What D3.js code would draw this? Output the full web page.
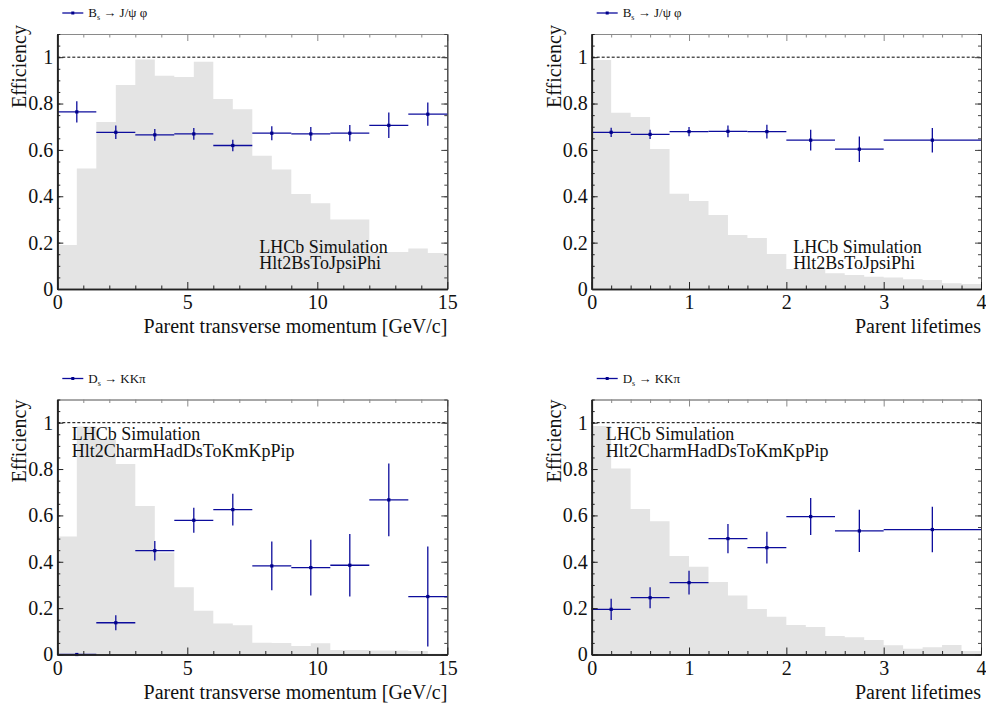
<!DOCTYPE html>
<html lang="en">
<head>
<meta charset="utf-8">
<title>Hlt2 efficiencies</title>
<script src="https://d3js.org/d3.v7.min.js"></script>
<style>
body { margin: 0; background: #fff; }
svg text { font-family: "Liberation Serif", "Times New Roman", Times, "DejaVu Serif", serif; fill: #111; }
</style>
</head>
<body>
<script>
// ---- data ----
// grey background distributions (arbitrary units, 20 bins)
var ptHistEdges  = [0, 0.75, 1.5, 2.25, 3, 3.75, 4.5, 5.25, 6, 6.75, 7.5, 8.25, 9, 9.75, 10.5, 11.25, 12, 12.75, 13.5, 14.25, 15];
var tauHistEdges = [0, 0.2, 0.4, 0.6, 0.8, 1, 1.2, 1.4, 1.6, 1.8, 2, 2.2, 2.4, 2.6, 2.8, 3, 3.2, 3.4, 3.6, 3.8, 4];

var bsPtHist  = [0.19, 0.52, 0.72, 0.88, 0.99, 0.92, 0.915, 0.98, 0.82, 0.775, 0.575, 0.515, 0.41, 0.37, 0.30, 0.30, 0.16, 0.16, 0.175, 0.155];
var bsTauHist = [0.988, 0.76, 0.742, 0.604, 0.411, 0.38, 0.319, 0.233, 0.22, 0.151, 0.086, 0.085, 0.068, 0.06, 0.053, 0.05, 0.042, 0.039, 0.025, 0.022];
var dsPtHist  = [0.509, 0.983, 0.93, 0.822, 0.641, 0.44, 0.29, 0.189, 0.134, 0.126, 0.051, 0.05, 0.037, 0.048, 0.019, 0.019, 0.017, 0.017, 0.015, 0.003];
var dsTauHist = [0.986, 0.802, 0.628, 0.575, 0.425, 0.378, 0.313, 0.254, 0.196, 0.163, 0.127, 0.119, 0.08, 0.074, 0.063, 0.04, 0.025, 0.031, 0.041, 0.015];

// efficiency points
var ptEffEdges  = [0, 1.5, 3, 4.5, 6, 7.5, 9, 10.5, 12, 13.5, 15];
var tauEffEdges = [0, 0.4, 0.8, 1.2, 1.6, 2, 2.5, 3, 4];

var bsPtEff  = [0.764, 0.676, 0.665, 0.669, 0.619, 0.672, 0.669, 0.672, 0.706, 0.754];
var bsPtErr  = [0.046, 0.029, 0.025, 0.025, 0.025, 0.03, 0.03, 0.035, 0.055, 0.05];
var bsTauEff = [0.676, 0.667, 0.679, 0.68, 0.679, 0.642, 0.603, 0.642];
var bsTauErr = [0.02, 0.02, 0.02, 0.025, 0.03, 0.045, 0.055, 0.053];

var dsPtEff  = [0.0, 0.137, 0.448, 0.579, 0.625, 0.382, 0.375, 0.385, 0.667, 0.25];
var dsPtErr  = [0, 0.032, 0.042, 0.054, 0.068, 0.105, 0.12, 0.135, 0.157, 0.216];
var dsTauEff = [0.195, 0.245, 0.31, 0.5, 0.461, 0.595, 0.533, 0.539];
var dsTauErr = [0.046, 0.045, 0.051, 0.063, 0.068, 0.08, 0.091, 0.098];

var yTicks = [0, 0.2, 0.4, 0.6, 0.8, 1];
var ptTicks = [0, 5, 10, 15];
var tauTicks = [0, 1, 2, 3, 4];

// ---- layout ----
var W = 986, H = 707;
var pointColor = "#0c0c9c";
var serif = "'Liberation Serif', 'Times New Roman', Times, 'DejaVu Serif', serif";

var svg = d3.select("body").append("svg")
    .attr("width", W)
    .attr("height", H)
    .attr("font-family", serif);

function drawPanel(p) {
    var g = svg.append("g")
        .attr("transform", "translate(" + p.left + "," + p.top + ")");

    var x = d3.scaleLinear().domain(p.xDomain).range([0, p.width]);
    var y = d3.scaleLinear().domain([0, 1.1]).range([p.height, 0]);

    // grey histogram
    var histData = p.histEdges.map(function (e, i) {
        return { x: e, v: p.hist[Math.min(i, p.hist.length - 1)] };
    });
    var area = d3.area()
        .curve(d3.curveStepAfter)
        .x(function (d) { return x(d.x); })
        .y0(y(0))
        .y1(function (d) { return y(d.v); });
    g.append("path").datum(histData)
        .attr("d", area)
        .attr("fill", "#e4e4e4");

    // reference line at 1
    g.append("line")
        .attr("x1", 0).attr("x2", p.width)
        .attr("y1", y(1)).attr("y2", y(1))
        .attr("stroke", "#000")
        .attr("stroke-width", 1)
        .attr("stroke-dasharray", "3,2");

    // frame: top and right (no labels)
    var topAxis = g.append("g").call(
        d3.axisTop(x).tickValues(p.xMinor).tickSizeInner(-3.5).tickSizeOuter(0).tickFormat(""));
    var topMajor = g.append("g").call(
        d3.axisTop(x).tickValues(p.xTicks).tickSizeInner(-7).tickSizeOuter(0).tickFormat(""));
    var rightAxis = g.append("g").attr("transform", "translate(" + p.width + ",0)").call(
        d3.axisRight(y).tickValues(d3.range(0, 1.101, 0.05)).tickSizeInner(-3).tickSizeOuter(0).tickFormat(""));
    var rightMajor = g.append("g").attr("transform", "translate(" + p.width + ",0)").call(
        d3.axisRight(y).tickValues(yTicks).tickSizeInner(-6).tickSizeOuter(0).tickFormat(""));
    [topAxis, topMajor].forEach(function (a) {
        a.selectAll("path, line").attr("stroke", "#8a8a8a");
    });
    [rightAxis, rightMajor].forEach(function (a) {
        a.selectAll("path, line").attr("stroke", "#444");
    });

    // efficiency points
    var pts = p.eff.map(function (v, i) {
        return { lo: p.effEdges[i], hi: p.effEdges[i + 1], v: v, e: p.err[i] };
    });
    var pg = g.selectAll("g.pt").data(pts).enter().append("g").attr("class", "pt");
    pg.append("line")
        .attr("x1", function (d) { return x(d.lo); })
        .attr("x2", function (d) { return x(d.hi); })
        .attr("y1", function (d) { return y(d.v); })
        .attr("y2", function (d) { return y(d.v); })
        .attr("stroke", pointColor).attr("stroke-width", 1.3);
    pg.append("line")
        .attr("x1", function (d) { return x((d.lo + d.hi) / 2); })
        .attr("x2", function (d) { return x((d.lo + d.hi) / 2); })
        .attr("y1", function (d) { return y(d.v - d.e); })
        .attr("y2", function (d) { return y(d.v + d.e); })
        .attr("stroke", pointColor).attr("stroke-width", 1.3);
    pg.append("rect")
        .attr("x", function (d) { return x((d.lo + d.hi) / 2) - 1.6; })
        .attr("y", function (d) { return y(d.v) - 1.6; })
        .attr("width", 3.2).attr("height", 3.2)
        .attr("fill", "#00008b");

    // bottom and left axes
    var xMinorAxis = g.append("g").attr("transform", "translate(0," + p.height + ")").call(
        d3.axisBottom(x).tickValues(p.xMinor).tickSizeInner(-3.5).tickSizeOuter(0).tickFormat(""));
    var xAxis = g.append("g").attr("transform", "translate(0," + p.height + ")").call(
        d3.axisBottom(x).tickValues(p.xTicks).tickSizeInner(-7).tickSizeOuter(0)
            .tickPadding(6).tickFormat(d3.format("~g")));
    var yMinorAxis = g.append("g").call(
        d3.axisLeft(y).tickValues(d3.range(0, 1.101, 0.05)).tickSizeInner(-3).tickSizeOuter(0).tickFormat(""));
    var yAxis = g.append("g").call(
        d3.axisLeft(y).tickValues(yTicks).tickSizeInner(-6).tickSizeOuter(0)
            .tickPadding(4).tickFormat(d3.format("~g")));
    [xMinorAxis, xAxis, yMinorAxis, yAxis].forEach(function (a) {
        a.attr("font-family", serif).attr("font-size", 20);
        a.selectAll("line").attr("stroke", "#222");
        a.select("path.domain").attr("stroke", "#222").attr("stroke-width", 1.7);
        a.selectAll("text").attr("fill", "#111");
    });

    // axis titles
    g.append("text")
        .attr("x", p.width).attr("y", p.height + 44)
        .attr("text-anchor", "end")
        .attr("font-size", 20)
        .text(p.xTitle);
    g.append("text")
        .attr("transform", "translate(" + (-31) + "," + p.yTitleTop + ") rotate(-90)")
        .attr("text-anchor", "end")
        .attr("font-size", 20)
        .text("Efficiency");

    // LHCb label
    var lab = g.append("text")
        .attr("x", p.labelX).attr("y", p.labelY)
        .attr("font-size", 18);
    lab.append("tspan").attr("x", p.labelX).text("LHCb Simulation");
    lab.append("tspan").attr("x", p.labelX).attr("dy", 16.5).text(p.line);

    // legend above the frame
    var lg = g.append("g").attr("transform", "translate(" + p.legendX + "," + (-21) + ")");
    lg.append("line").attr("x1", 0).attr("x2", 21).attr("y1", 0).attr("y2", 0)
        .attr("stroke", pointColor).attr("stroke-width", 1.3);
    lg.append("rect").attr("x", 9).attr("y", -1.5).attr("width", 3).attr("height", 3)
        .attr("fill", "#00008b");
    var lt = lg.append("text").attr("x", 26).attr("y", 4).attr("font-size", 13);
    lt.append("tspan").text(p.mother);
    lt.append("tspan").attr("font-size", 8).attr("dy", 3).text("s");
    lt.append("tspan").attr("dy", -3).text(" \u2192 " + p.daughters);
}

var ptMinor = [1, 2, 3, 4, 6, 7, 8, 9, 11, 12, 13, 14];
var tauMinor = [0.2, 0.4, 0.6, 0.8, 1.2, 1.4, 1.6, 1.8, 2.2, 2.4, 2.6, 2.8, 3.2, 3.4, 3.6, 3.8];

drawPanel({
    left: 57.3, top: 34, width: 390, height: 255,
    xDomain: [0, 15], xTicks: ptTicks, xMinor: ptMinor,
    histEdges: ptHistEdges, hist: bsPtHist,
    effEdges: ptEffEdges, eff: bsPtEff, err: bsPtErr,
    xTitle: "Parent transverse momentum [GeV/c]",
    yTitleTop: -9,
    labelX: 202, labelY: 218.7, line: "Hlt2BsToJpsiPhi",
    legendX: 5, mother: "B", daughters: "J/\u03c8 \u03c6"
});
drawPanel({
    left: 591.7, top: 34, width: 389.3, height: 255,
    xDomain: [0, 4], xTicks: tauTicks, xMinor: tauMinor,
    histEdges: tauHistEdges, hist: bsTauHist,
    effEdges: tauEffEdges, eff: bsTauEff, err: bsTauErr,
    xTitle: "Parent lifetimes",
    yTitleTop: -9,
    labelX: 201.6, labelY: 218.7, line: "Hlt2BsToJpsiPhi",
    legendX: 5, mother: "B", daughters: "J/\u03c8 \u03c6"
});
drawPanel({
    left: 57.3, top: 399.5, width: 390, height: 255,
    xDomain: [0, 15], xTicks: ptTicks, xMinor: ptMinor,
    histEdges: ptHistEdges, hist: dsPtHist,
    effEdges: ptEffEdges, eff: dsPtEff, err: dsPtErr,
    xTitle: "Parent transverse momentum [GeV/c]",
    yTitleTop: 0,
    labelX: 14.4, labelY: 40.5, line: "Hlt2CharmHadDsToKmKpPip",
    legendX: 5, mother: "D", daughters: "KK\u03c0"
});
drawPanel({
    left: 591.7, top: 399.5, width: 389.3, height: 255,
    xDomain: [0, 4], xTicks: tauTicks, xMinor: tauMinor,
    histEdges: tauHistEdges, hist: dsTauHist,
    effEdges: tauEffEdges, eff: dsTauEff, err: dsTauErr,
    xTitle: "Parent lifetimes",
    yTitleTop: 0,
    labelX: 14, labelY: 40.5, line: "Hlt2CharmHadDsToKmKpPip",
    legendX: 5, mother: "D", daughters: "KK\u03c0"
});
</script>
</body>
</html>
